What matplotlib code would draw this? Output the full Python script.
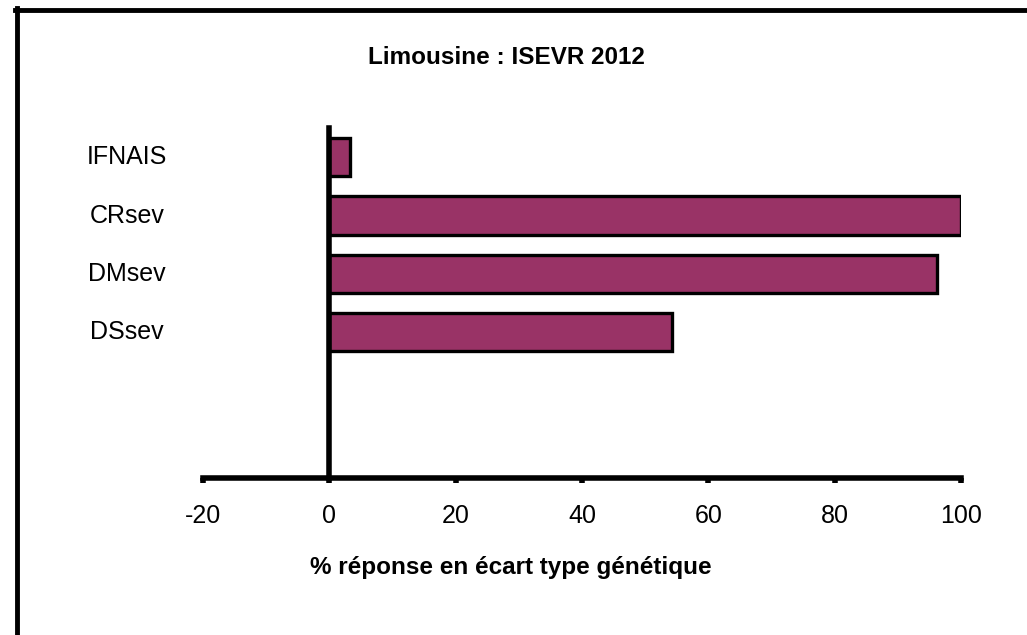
import matplotlib
matplotlib.use('Agg')
from matplotlib import pyplot as plt
from matplotlib.lines import Line2D

plt.rcParams['font.family'] = ['Liberation Sans', 'DejaVu Sans']

# Data
Traits = ['IFNAIS', 'CRsev', 'DMsev', 'DSsev']
Response = [3.2, 100, 96.2, 54.3]
XTicks = [-20, 0, 20, 40, 60, 80, 100]

BarColor = '#993366'

fig = plt.figure(figsize=(10.27, 6.35), dpi=100)
ax = fig.add_axes([0.1977, 0.2472, 0.738, 0.5512])

ypos = list(range(len(Traits)))
ax.barh(ypos, Response, height=0.66, color=BarColor,
        edgecolor='black', linewidth=2.4, zorder=2)

ax.set_xlim(-20, 100)
ax.set_ylim(5.5, -0.5)

# spines
for s in ['top', 'right']:
    ax.spines[s].set_visible(False)
ax.spines['left'].set_position(('data', 0))
ax.spines['left'].set_linewidth(4)
ax.spines['left'].set_zorder(3)
ax.spines['bottom'].set_linewidth(4)
ax.spines['bottom'].set_capstyle('projecting')

ax.set_xticks(XTicks)
ax.set_xticklabels([str(v) for v in XTicks])
ax.tick_params(axis='x', direction='out', length=3.5, width=4,
               labelsize=18, pad=15)

# y labels sit at the left edge of the plot area, centered
ax.set_yticks([])
for y, name in zip(ypos, Traits):
    ax.annotate(name, xy=(0, y), xycoords=('axes fraction', 'data'),
                xytext=(-76, 0), textcoords='offset pixels',
                ha='center', va='center', fontsize=18)

fig.text(0.493, 0.910, 'Limousine : ISEVR 2012', ha='center', va='center',
         fontsize=17.5, fontweight='bold')
fig.text(0.4975, 0.107, '% réponse en écart type génétique', ha='center',
         va='center', fontsize=17.5, fontweight='bold')

# frame border (top and left only)
fig.add_artist(Line2D([15 / 1027, 1.0], [1 - 9.5 / 635, 1 - 9.5 / 635],
                      transform=fig.transFigure, color='black', linewidth=3.5))
fig.add_artist(Line2D([17 / 1027, 17 / 1027], [0, 1 - 8 / 635],
                      transform=fig.transFigure, color='black', linewidth=3.5))

fig.savefig('out.png', dpi=100)
